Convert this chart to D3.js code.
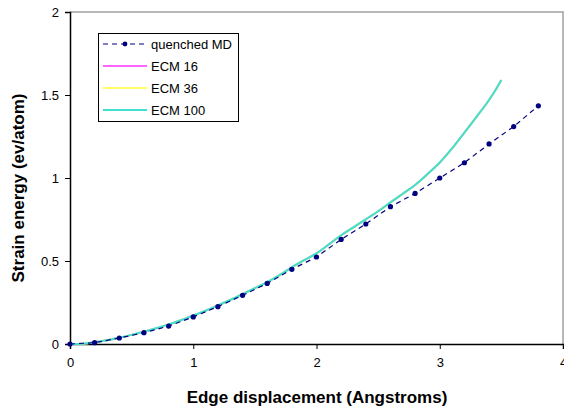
<!DOCTYPE html>
<html><head><meta charset="utf-8">
<script src="https://cdn.jsdelivr.net/npm/d3@7"></script>
<style>body{margin:0;background:#fff}svg{display:block;font-family:"Liberation Sans",Arial,sans-serif}</style>
</head><body><svg id="c" width="564" height="407"></svg>
<script>
const mdX = [0,0.2,0.4,0.6,0.8,1.0,1.2,1.4,1.6,1.8,2.0,2.2,2.4,2.6,2.8,3.0,3.2,3.4,3.6,3.8];
const mdY = [0,0.008,0.036,0.068,0.108,0.163,0.225,0.293,0.365,0.45,0.524,0.63,0.723,0.827,0.907,1.0,1.092,1.205,1.31,1.435];
const ecmX = [0,0.1,0.2,0.3,0.4,0.5,0.6,0.7,0.8,0.9,1.0,1.1,1.2,1.3,1.4,1.5,1.6,1.7,1.8,1.9,2.0,2.1,2.2,2.3,2.4,2.5,2.6,2.7,2.8,2.9,3.0,3.1,3.2,3.3,3.4,3.45,3.5];
const ecm16 = [0,0.002,0.01,0.022,0.038,0.055,0.074,0.095,0.118,0.143,0.172,0.2,0.232,0.265,0.3,0.336,0.373,0.415,0.462,0.505,0.546,0.6,0.655,0.703,0.751,0.8,0.853,0.905,0.958,1.023,1.093,1.178,1.273,1.37,1.47,1.527,1.59];
const ecm36 = [0,0.002,0.01,0.022,0.038,0.055,0.074,0.095,0.118,0.143,0.172,0.2,0.232,0.265,0.3,0.336,0.373,0.415,0.462,0.505,0.546,0.6,0.655,0.703,0.751,0.8,0.853,0.905,0.958,1.023,1.093,1.178,1.273,1.37,1.47,1.527,1.59];
const ecm100 = [0,0.002,0.01,0.022,0.038,0.055,0.074,0.095,0.118,0.143,0.172,0.2,0.232,0.265,0.3,0.336,0.373,0.415,0.462,0.505,0.546,0.6,0.655,0.703,0.751,0.8,0.853,0.905,0.958,1.023,1.093,1.178,1.273,1.37,1.47,1.527,1.59];
const xTicks = [0,1,2,3,4];
const yTicks = [0,0.5,1,1.5,2];
const seriesNames = ["quenched MD","ECM 16","ECM 36","ECM 100"];
const seriesColors = ["#000080","#ff66ff","#ffff66","#40e0d0"];

const svg = d3.select("#c");
const L=70,R=563,T=12,B=344;
const x = d3.scaleLinear().domain([0,4]).range([L,R]);
const y = d3.scaleLinear().domain([0,2]).range([B,T]);

svg.append("path").attr("d",`M${L},${T}H${R}V${B}`).attr("fill","none").attr("stroke","#a0a0a0").attr("stroke-width",1.5);

const xa = svg.append("g").attr("transform",`translate(0,${B})`)
  .call(d3.axisBottom(x).tickValues(xTicks).tickFormat(d3.format("d")).tickSize(5).tickPadding(9));
const ya = svg.append("g").attr("transform",`translate(${L},0)`)
  .call(d3.axisLeft(y).tickValues(yTicks).tickFormat(d=>String(d)).tickSize(5).tickPadding(6));
[xa,ya].forEach(a=>{
  a.selectAll("path").attr("stroke","#000").attr("stroke-width",1.5);
  a.selectAll("line").attr("stroke","#000");
  a.selectAll("text").attr("font-size",13).attr("fill","#000").attr("font-family","Liberation Sans, Arial, sans-serif");
});

const line = d3.line().curve(d3.curveMonotoneX);
const ecms = [ecm16,ecm36,ecm100];
ecms.forEach((arr,i)=>{
  svg.append("path").attr("d",line(ecmX.map((v,j)=>[x(v),y(arr[j])])))
    .attr("fill","none").attr("stroke",seriesColors[i+1]).attr("stroke-width",2);
});
svg.append("path").attr("d",d3.line()(mdX.map((v,j)=>[x(v),y(mdY[j])])))
  .attr("fill","none").attr("stroke",seriesColors[0]).attr("stroke-width",1.2).attr("stroke-dasharray","5,4");
svg.selectAll("circle.md").data(mdX).enter().append("circle")
  .attr("cx",d=>x(d)).attr("cy",(d,j)=>y(mdY[j])).attr("r",2.6).attr("fill","#000080");

const lg = svg.append("g");
lg.append("rect").attr("x",98.5).attr("y",33.5).attr("width",140).attr("height",88).attr("fill","#fff").attr("stroke","#000").attr("stroke-width",1);
seriesNames.forEach((n,i)=>{
  const yy = 44 + i*22;
  const l = lg.append("line").attr("x1",103).attr("x2",147).attr("y1",yy).attr("y2",yy)
    .attr("stroke",i===0?"#000080":seriesColors[i]).attr("stroke-width",i===0?1.2:2);
  if(i===0){ l.attr("stroke-dasharray","5,4"); lg.append("circle").attr("cx",125).attr("cy",yy).attr("r",2.4).attr("fill","#000080"); }
  lg.append("text").attr("x",151).attr("y",yy+4.5).attr("font-size",13).text(n);
});

svg.append("text").attr("x",317).attr("y",403).attr("text-anchor","middle").attr("font-size",17).attr("font-weight","bold").text("Edge displacement (Angstroms)");
svg.append("text").attr("transform","translate(24,188) rotate(-90)").attr("text-anchor","middle").attr("font-size",17).attr("font-weight","bold").text("Strain energy (ev/atom)");
</script></body></html>
